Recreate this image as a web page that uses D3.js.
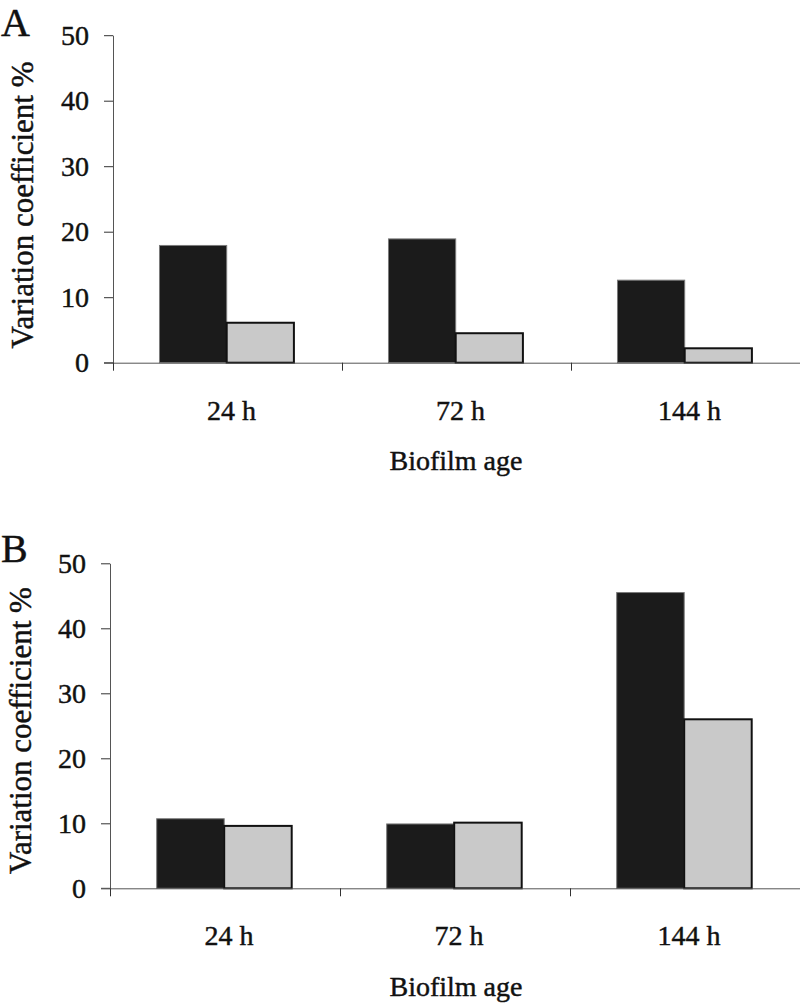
<!DOCTYPE html>
<html>
<head>
<meta charset="utf-8">
<script src="https://cdn.jsdelivr.net/npm/d3@7"></script>
<style>
  html, body { margin: 0; padding: 0; background: #fff; }
  svg { display: block; }
  text { font-family: "Liberation Serif", "Times New Roman", serif; fill: #111; stroke: #111; stroke-width: 0.45px; }
</style>
</head>
<body>
<script>
// ---- data ----
const categories = ["24 h", "72 h", "144 h"];
const seriesNames = ["dark", "light"];
const panelADark = [17.9, 18.9, 12.6];
const panelALight = [6.1, 4.5, 2.2];
const panelBDark = [10.7, 9.9, 45.5];
const panelBLight = [9.6, 10.1, 26.0];
const yTickValues = [0, 10, 20, 30, 40, 50];
const panelLetters = ["A", "B"];
const yTitle = "Variation coefficient %";
const xTitle = "Biofilm age";

const W = 800, H = 1003;
const svg = d3.select("body").append("svg").attr("width", W).attr("height", H);

const fills = { dark: "#1b1b1b", light: "#c9c9c9" };
const strokes = { dark: "#7a7a7a", light: "#111" };
const strokeW = { dark: 1, light: 2 };

const panels = [
  { letter: panelLetters[0], dark: panelADark, light: panelALight,
    left: 113, right: 800, y0: 362.7, y50: 35.2, dy: 0 },
  { letter: panelLetters[1], dark: panelBDark, light: panelBLight,
    left: 110, right: 800, y0: 888.3, y50: 563.3, dy: 525.6 }
];

panels.forEach(p => {
  const g = svg.append("g");
  const y = d3.scaleLinear().domain([0, 50]).range([p.y0, p.y50]);
  const x0 = d3.scaleBand().domain(categories).range([p.left, p.right]).padding(0);
  const bw = x0.bandwidth();
  const x1 = d3.scaleBand().domain(seriesNames).range([bw * 0.203, bw * 0.79]).padding(0);

  const rows = categories.map((c, i) => ({ cat: c, dark: p.dark[i], light: p.light[i] }));

  // bars
  const groups = g.selectAll("g.cat").data(rows).join("g")
    .attr("transform", d => `translate(${x0(d.cat)},0)`);
  groups.selectAll("rect").data(d => seriesNames.map(s => ({ s, v: d[s] }))).join("rect")
    .attr("x", d => x1(d.s))
    .attr("width", x1.bandwidth())
    .attr("y", d => y(d.v))
    .attr("height", d => y(0) - y(d.v))
    .attr("fill", d => fills[d.s])
    .attr("stroke", d => strokes[d.s])
    .attr("stroke-width", d => strokeW[d.s]);

  // y axis
  const yAxis = g.append("g").attr("transform", `translate(${p.left},0)`)
    .call(d3.axisLeft(y).tickValues(yTickValues).tickSize(9).tickSizeOuter(0).tickPadding(15));
  yAxis.select(".domain").attr("stroke", "#555");
  yAxis.selectAll(".tick line").attr("stroke", "#333");
  yAxis.selectAll(".tick text").attr("font-size", 28).attr("font-family", "Liberation Serif").attr("fill", "#111");

  // x axis boundary ticks
  const xb = d3.scaleLinear().domain([0, categories.length]).range([p.left, p.right]);
  const xAxis = g.append("g").attr("transform", `translate(0,${p.y0})`)
    .call(d3.axisBottom(xb).tickValues(d3.range(categories.length + 1)).tickFormat("").tickSize(8).tickSizeOuter(0));
  xAxis.select(".domain").attr("stroke", "#555");
  xAxis.selectAll(".tick line").attr("stroke", "#333");
  g.append("line").attr("x1", p.left - 9).attr("x2", p.left).attr("y1", p.y0).attr("y2", p.y0).attr("stroke", "#555");

  // category labels
  const catAxis = g.append("g").attr("transform", `translate(4,${p.y0})`)
    .call(d3.axisBottom(x0).tickSize(0).tickPadding(37));
  catAxis.select(".domain").remove();
  catAxis.selectAll(".tick text").attr("font-size", 28).attr("font-family", "Liberation Serif").attr("fill", "#111");

  // x title
  g.append("text").attr("x", 456).attr("y", 470 + p.dy)
    .attr("text-anchor", "middle").attr("font-size", 28).text(xTitle);

  // y title
  g.append("text")
    .attr("transform", `translate(${33 - (p.letter === "B" ? 2 : 0)},${205 + p.dy}) rotate(-90)`)
    .attr("text-anchor", "middle").attr("font-size", 31).text(yTitle);

  // panel letter
  g.append("text").attr("x", 1).attr("y", 36 + p.dy)
    .attr("font-size", 40).text(p.letter);
});
</script>
</body>
</html>
